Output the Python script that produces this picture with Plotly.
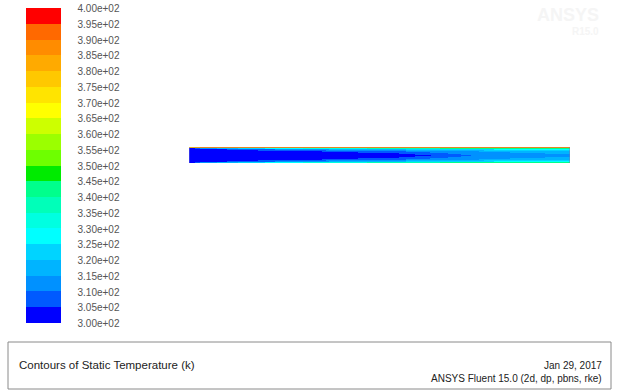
import plotly.graph_objects as go

# ---------------- data ----------------
# station positions along the pipe (fraction of length)
x_pos = [0.0, 0.03, 0.1, 0.2, 0.3, 0.4, 0.5, 0.6, 0.66, 0.72, 0.8, 0.9, 1.0]
# positions across the pipe (normalised, bottom wall -1 .. top wall +1)
y_pos = [-1.0, -0.9, -0.75, -0.5, -0.25, 0.0, 0.25, 0.5, 0.75, 0.9, 1.0]

# static temperature (K) rows = y_pos (bottom -> top), cols = x_pos
T_bottom_wall = [350, 360, 362, 362, 362, 362, 362, 362, 362, 362, 362, 362, 362]
T_m090 = [300, 310, 318, 325, 330, 333, 336, 339, 340, 341, 342, 343, 344]
T_m075 = [300, 302, 305, 309, 313, 316, 318, 321, 322, 324, 325, 326, 328]
T_m050 = [300, 300, 301, 302, 304, 306, 308, 311, 313, 314, 316, 317, 319]
T_m025 = [300, 300, 300, 300.5, 301, 302.5, 304, 306, 309.5, 311, 313, 314.5, 316]
T_c000 = [300, 300, 300, 300, 300.5, 301.5, 303, 304.3, 305.5, 309.5, 311.5, 313, 314]
T_p025 = [300, 300, 300, 300.5, 301, 302.5, 304, 306, 309.5, 311, 313, 314.5, 316]
T_p050 = [300, 300, 301, 302, 304, 306, 308, 311, 313, 314, 316, 317, 319]
T_p075 = [300, 302, 305, 309, 313, 316, 318, 321, 322, 324, 325, 326, 328]
T_p090 = [300, 310, 318, 325, 330, 333, 336, 339, 340, 341, 342, 343, 344]
T_top_wall = [375, 385, 388, 388, 388, 388, 388, 388, 388, 388, 388, 388, 388]

# colour-map bands (300 -> 400 K, 20 levels), bottom to top
band_colors = [
    "rgb(0,0,255)", "rgb(0,90,255)", "rgb(0,145,255)", "rgb(0,180,255)",
    "rgb(0,212,255)", "rgb(0,255,255)", "rgb(0,255,225)", "rgb(0,255,185)",
    "rgb(0,255,140)", "rgb(0,235,0)", "rgb(110,255,0)", "rgb(155,255,0)",
    "rgb(205,255,0)", "rgb(255,255,0)", "rgb(255,228,0)", "rgb(255,200,0)",
    "rgb(255,170,0)", "rgb(255,140,0)", "rgb(255,105,0)", "rgb(255,0,0)",
]
tick_vals = [300 + 5 * i for i in range(21)]
tick_text = ["3.00e+02", "3.05e+02", "3.10e+02", "3.15e+02", "3.20e+02",
             "3.25e+02", "3.30e+02", "3.35e+02", "3.40e+02", "3.45e+02",
             "3.50e+02", "3.55e+02", "3.60e+02", "3.65e+02", "3.70e+02",
             "3.75e+02", "3.80e+02", "3.85e+02", "3.90e+02", "3.95e+02",
             "4.00e+02"]

title_text = "Contours of Static Temperature (k)"
date_text = "Jan 29, 2017"
solver_text = "ANSYS Fluent 15.0 (2d, dp, pbns, rke)"
logo_text = "ANSYS"
version_text = "R15.0"

# ---------------- figure ----------------
W, H = 619, 391


def px(v):
    return v / W


def py(v):
    return (H - v) / H


T = [T_bottom_wall, T_m090, T_m075, T_m050, T_m025, T_c000,
     T_p025, T_p050, T_p075, T_p090, T_top_wall]

n = len(band_colors)
cscale = []
for i, c in enumerate(band_colors):
    cscale.append([i / n, c])
    cscale.append([(i + 1) / n, c])

fig = go.Figure()
fig.add_trace(go.Heatmap(
    x=x_pos, y=y_pos, z=T,
    zmin=300, zmax=400, zsmooth="best",
    colorscale=cscale,
    hoverinfo="skip",
    colorbar=dict(
        x=px(26), xanchor="left", xpad=0,
        y=py(8.5), yanchor="top", ypad=0,
        thickness=35, thicknessmode="pixels",
        len=315, lenmode="pixels",
        outlinewidth=0, borderwidth=0,
        tickmode="array", tickvals=tick_vals, ticktext=tick_text,
        ticks="outside", ticklen=15, tickcolor="rgba(0,0,0,0)",
        ticklabeloverflow="allow",
        tickfont=dict(family="Liberation Sans, Arial", size=10, color="#555555"),
    ),
))

# outline of the pipe: top wall, outlet and inlet edges
fig.add_trace(go.Scatter(
    x=[x_pos[0], x_pos[-1]], y=[y_pos[-1], y_pos[-1]], mode="lines",
    line=dict(color="rgba(185,130,90,0.75)", width=1), hoverinfo="skip"))
fig.add_trace(go.Scatter(
    x=[x_pos[-1], x_pos[-1]], y=[y_pos[0], y_pos[-1]], mode="lines",
    line=dict(color="rgba(140,110,160,0.85)", width=1), hoverinfo="skip"))
fig.add_trace(go.Scatter(
    x=[x_pos[0], x_pos[0]], y=[y_pos[0], y_pos[-1]], mode="lines",
    line=dict(color="rgba(170,170,190,0.6)", width=1), hoverinfo="skip"))

fig.update_layout(
    width=W, height=H,
    margin=dict(l=0, r=0, t=0, b=0),
    paper_bgcolor="white", plot_bgcolor="white",
    xaxis=dict(domain=[px(189), px(570)], range=[0, 1], visible=False, fixedrange=True),
    yaxis=dict(domain=[py(163), py(147)], range=[-1, 1], visible=False, fixedrange=True),
    showlegend=False,
)

# footer box
fig.add_shape(type="rect", xref="paper", yref="paper",
              x0=px(8), x1=px(611), y0=py(389), y1=py(342),
              line=dict(color="#8a8a8a", width=1), fillcolor="rgba(0,0,0,0)")

font_footer = dict(family="Liberation Sans, Arial", size=10, color="#222222")
fig.add_annotation(x=px(17), y=py(365), xref="paper", yref="paper",
                   text=title_text, showarrow=False, xanchor="left", yanchor="middle",
                   font=dict(family="Liberation Sans, Arial", size=11.5, color="#222222"))
fig.add_annotation(x=px(604), y=py(365), xref="paper", yref="paper",
                   text=date_text, showarrow=False, xanchor="right", yanchor="middle",
                   font=font_footer)
fig.add_annotation(x=px(604), y=py(378), xref="paper", yref="paper",
                   text=solver_text, showarrow=False, xanchor="right", yanchor="middle",
                   font=font_footer)

# faint ANSYS watermark
fig.add_annotation(x=px(601), y=py(15), xref="paper", yref="paper",
                   text="<b>" + logo_text + "</b>", showarrow=False,
                   xanchor="right", yanchor="middle",
                   font=dict(family="Liberation Sans, Arial", size=18, color="#f5f5f5"))
fig.add_annotation(x=px(601), y=py(32), xref="paper", yref="paper",
                   text="<b>" + version_text + "</b>", showarrow=False,
                   xanchor="right", yanchor="middle",
                   font=dict(family="Liberation Sans, Arial", size=10, color="#f5f5f5"))

fig.write_html("out.html", config={"displayModeBar": False},
               post_script="document.body.style.margin='0';")
